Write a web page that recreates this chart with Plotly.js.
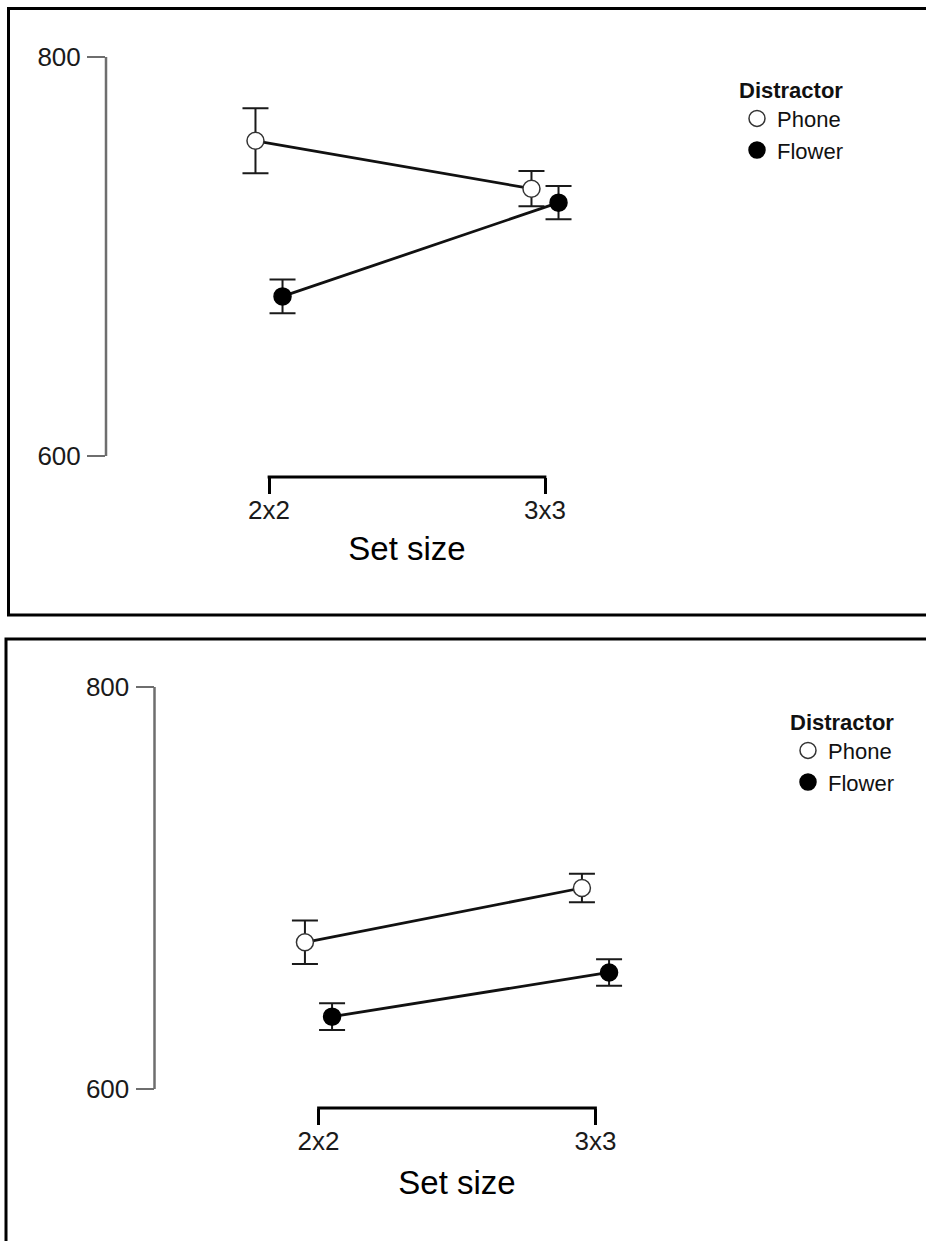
<!DOCTYPE html>
<html><head><meta charset="utf-8">
<script src="https://cdn.plot.ly/plotly-3.0.1.min.js"></script>
<style>html,body{margin:0;padding:0;background:#fff;}#chart{width:926px;height:1241px;}</style>
</head><body><div id="chart"></div>
<script>
// ---- data ----
const setSizes = ['2x2', '3x3'];
const distractors = ['Phone', 'Flower'];
const yTickVals = [600, 800];
const yTickText = ['600', '800'];
// panel 1 (top)
const p1Phone = [758, 734];
const p1PhoneErr = [16.3, 8.8];
const p1Flower = [680, 727];
const p1FlowerErr = [8.5, 8.3];
// panel 2 (bottom)
const p2Phone = [673, 700];
const p2PhoneErr = [10.8, 7.1];
const p2Flower = [636, 658];
const p2FlowerErr = [6.6, 6.6];

// ---- layout geometry ----
const W = 926, H = 1241;
const FONT = 'Liberation Sans, Arial, Helvetica, sans-serif';
function geom(c) {
  const ppu = c.cat1 - c.cat0;
  const center = (c.cat0 + c.cat1) / 2;
  const right = 2 * center - c.axisX;
  const ypu = (c.y600 - c.y800) / 200;
  return {
    xdomain: [c.axisX / W, right / W],
    xrange: [-(c.cat0 - c.axisX) / ppu, 1 + (right - c.cat1) / ppu],
    ydomain: [1 - c.bracket / H, 1 - c.top / H],
    yrange: [600 - (c.bracket - c.y600) / ypu, 800 + (c.y800 - c.top) / ypu]
  };
}
const g1 = geom({axisX: 106, cat0: 269, cat1: 545, y800: 57, y600: 456, bracket: 477, top: 30});
const g2 = geom({axisX: 154.5, cat0: 318.5, cat1: 595.5, y800: 687, y600: 1089, bracket: 1108, top: 660});
const dodge = {Phone: -0.049, Flower: 0.049};

function series(xa, ya, name, vals, errs) {
  const filled = name === 'Flower';
  return {
    type: 'scatter', mode: 'lines+markers', xaxis: xa, yaxis: ya, name: name, showlegend: false,
    x: setSizes.map((_, i) => i + dodge[name]), y: vals,
    error_y: {type: 'data', array: errs, visible: true, color: '#1a1a1a', thickness: 2, width: 13},
    line: {color: '#111', width: 2.8},
    marker: {symbol: 'circle', size: 17, color: filled ? '#000' : '#fff', line: {color: filled ? '#000' : '#333', width: 1.5}},
    hoverinfo: 'x+y+name'
  };
}
function legendItem(xa, ya, name, leg) {
  const filled = name === 'Flower';
  return {
    type: 'scatter', mode: 'markers', xaxis: xa, yaxis: ya, name: name, legend: leg, showlegend: true,
    x: [null], y: [null],
    marker: {symbol: 'circle', size: 16, color: filled ? '#000' : '#fff', line: {color: filled ? '#000' : '#333', width: 1.5}}
  };
}

const traces = [
  series('x', 'y', 'Phone', p1Phone, p1PhoneErr),
  series('x', 'y', 'Flower', p1Flower, p1FlowerErr),
  series('x2', 'y2', 'Phone', p2Phone, p2PhoneErr),
  series('x2', 'y2', 'Flower', p2Flower, p2FlowerErr),
  legendItem('x', 'y', distractors[0], 'legend'),
  legendItem('x', 'y', distractors[1], 'legend'),
  legendItem('x2', 'y2', distractors[0], 'legend2'),
  legendItem('x2', 'y2', distractors[1], 'legend2')
];

function xAxis(g, anchor, standoff) {
  return {
    domain: g.xdomain, range: g.xrange, anchor: anchor, fixedrange: true,
    tickmode: 'array', tickvals: setSizes.map((_, i) => i), ticktext: setSizes,
    ticks: 'outside', ticklen: 16, tickwidth: 3, tickcolor: '#000',
    showline: false, showgrid: false, zeroline: false, ticklabelstandoff: -6,
    tickfont: {family: FONT, size: 26, color: '#1a1a1a'},
    title: {text: 'Set size', font: {family: FONT, size: 33, color: '#000'}, standoff: standoff}
  };
}
function yAxis(g, anchor) {
  return {
    domain: g.ydomain, range: g.yrange, anchor: anchor, fixedrange: true,
    tickmode: 'array', tickvals: yTickVals, ticktext: yTickText,
    ticks: 'outside', ticklen: 18, tickwidth: 2, tickcolor: '#6e6e6e',
    showline: false, showgrid: false, zeroline: false, ticklabelstandoff: 1,
    tickfont: {family: FONT, size: 26, color: '#1a1a1a'}
  };
}
function legendBox(xpx, ypx) {
  return {
    x: xpx / W, y: 1 - ypx / H, xanchor: 'left', yanchor: 'top',
    bgcolor: 'rgba(0,0,0,0)', borderwidth: 0, itemwidth: 30, traceorder: 'normal',
    title: {text: '<b>Distractor</b>', font: {family: FONT, size: 22, color: '#111'}},
    font: {family: FONT, size: 22, color: '#111'}
  };
}

const axisGray = '#6e6e6e';
const layout = {
  width: W, height: H, margin: {l: 0, r: 0, t: 0, b: 0},
  paper_bgcolor: '#fff', plot_bgcolor: 'rgba(0,0,0,0)',
  font: {family: FONT},
  xaxis: xAxis(g1, 'y', 12), yaxis: yAxis(g1, 'x'),
  xaxis2: xAxis(g2, 'y2', 15), yaxis2: yAxis(g2, 'x2'),
  legend: legendBox(737, 69),
  legend2: legendBox(788, 701),
  shapes: [
    // panel frames
    {type: 'rect', xref: 'paper', yref: 'paper', x0: 8.5 / W, x1: 1.02, y0: 1 - 615 / H, y1: 1 - 8.5 / H, line: {color: '#000', width: 3}},
    {type: 'rect', xref: 'paper', yref: 'paper', x0: 6 / W, x1: 1.02, y0: -0.02, y1: 1 - 639 / H, line: {color: '#000', width: 3}},
    // y axis range-frame lines
    {type: 'line', xref: 'x domain', yref: 'y', x0: 0, x1: 0, y0: yTickVals[0], y1: yTickVals[1], line: {color: axisGray, width: 2.5}},
    {type: 'line', xref: 'x2 domain', yref: 'y2', x0: 0, x1: 0, y0: yTickVals[0], y1: yTickVals[1], line: {color: axisGray, width: 2.5}},
    // x axis brackets
    {type: 'line', xref: 'x', yref: 'y domain', x0: -0.005, x1: 1.005, y0: 0, y1: 0, line: {color: '#000', width: 3}},
    {type: 'line', xref: 'x2', yref: 'y2 domain', x0: -0.005, x1: 1.005, y0: 0, y1: 0, line: {color: '#000', width: 3}}
  ]
};

Plotly.newPlot('chart', traces, layout, {displayModeBar: false, staticPlot: true});
</script>
</body></html>
